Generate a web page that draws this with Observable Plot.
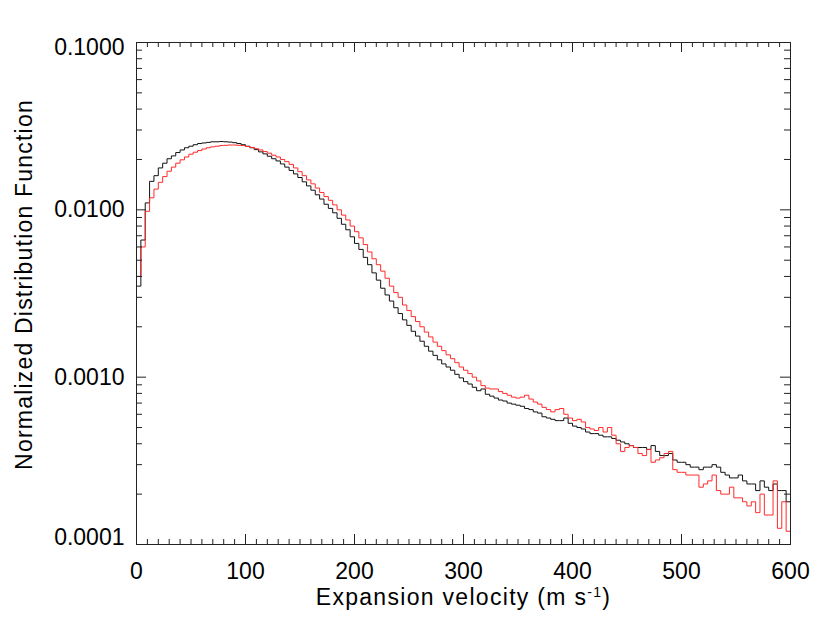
<!DOCTYPE html>
<html><head><meta charset="utf-8">
<script src="https://cdn.jsdelivr.net/npm/d3@7"></script>
<script src="https://cdn.jsdelivr.net/npm/@observablehq/plot@0.6"></script>
<style>html,body{margin:0;padding:0;background:#fff} svg{display:block}</style>
</head><body><div id="chart"></div>
<script>
// ---- data (bin start velocities, bin width 4 m/s) ----
const binWidth = 4;
const velocity = d3.range(0, 600, binWidth);
const blackSeries = [
  0.0035, 0.0066, 0.0110, 0.0148, 0.0160, 0.0178, 0.0190, 0.0202, 0.0210, 0.0220,
  0.0228, 0.0235, 0.0240, 0.0245, 0.0249, 0.0251, 0.0253, 0.0255, 0.0255, 0.0256,
  0.0255, 0.0254, 0.0252, 0.0249, 0.0245, 0.0240, 0.0235, 0.0229, 0.0222, 0.0216,
  0.0209, 0.0202, 0.0196, 0.0188, 0.0180, 0.0172, 0.0164, 0.0156, 0.0147, 0.0139,
  0.0131, 0.0123, 0.0116, 0.0108, 0.0102, 0.0096, 0.0089, 0.0082, 0.0076, 0.0069,
  0.0063, 0.0058, 0.0052, 0.0047, 0.0042, 0.0038, 0.0034, 0.0031, 0.00285, 0.0026,
  0.0024, 0.0022, 0.00204, 0.00188, 0.00176, 0.00164, 0.00153, 0.00143, 0.00135, 0.00127,
  0.00120, 0.00115, 0.00110, 0.00104, 0.00099, 0.00094, 0.00091, 0.00087, 0.00083, 0.00085,
  0.00079, 0.00077, 0.00075, 0.00073, 0.00072, 0.00070, 0.00069, 0.00068, 0.00067, 0.00065,
  0.00064, 0.00062, 0.00061, 0.00058, 0.00057, 0.00056, 0.00055, 0.00055, 0.00057, 0.00053,
  0.00051, 0.00050, 0.00049, 0.00047, 0.00046, 0.00046, 0.00045, 0.00044, 0.00044, 0.00043,
  0.00042, 0.00041, 0.00040, 0.00039, 0.00038, 0.00038, 0.00038, 0.00037, 0.00039, 0.00036,
  0.00034, 0.00034, 0.00035, 0.00032, 0.00031, 0.00031, 0.00030, 0.00029, 0.00029, 0.00028,
  0.00029, 0.00029, 0.00030, 0.00029, 0.00027, 0.00026, 0.00025, 0.00025, 0.00026, 0.00024,
  0.00023, 0.00023, 0.00021, 0.00024, 0.00022, 0.00021, 0.00023, 0.00021, 0.00021, 0.00018
];
const redSeries = [
  0.0040, 0.0060, 0.0098, 0.0118, 0.0133, 0.0146, 0.0158, 0.0170, 0.0180, 0.0190,
  0.0199, 0.0207, 0.0215, 0.0221, 0.0226, 0.0231, 0.0235, 0.0238, 0.0240, 0.0242,
  0.0243, 0.0244, 0.0244, 0.0243, 0.0242, 0.0239, 0.0236, 0.0232, 0.0228, 0.0223,
  0.0218, 0.0212, 0.0207, 0.0200, 0.0194, 0.0187, 0.0178, 0.0169, 0.0160, 0.0151,
  0.0143, 0.0135, 0.0127, 0.0120, 0.0114, 0.0107, 0.0100, 0.0093, 0.0087, 0.0080,
  0.0074, 0.0068, 0.0062, 0.0056, 0.0051, 0.0047, 0.0043, 0.0039, 0.0035, 0.0032,
  0.0030, 0.0027, 0.0025, 0.0023, 0.00215, 0.0020, 0.00186, 0.00174, 0.00162, 0.00153,
  0.00144, 0.00136, 0.00129, 0.00122, 0.00115, 0.00110, 0.00105, 0.00100, 0.00095, 0.00089,
  0.00086, 0.00085, 0.00085, 0.00082, 0.00080, 0.00078, 0.00076, 0.00075, 0.00076, 0.00078,
  0.00074, 0.00071, 0.00069, 0.00066, 0.00064, 0.00062, 0.00064, 0.00065, 0.00060, 0.00057,
  0.00055, 0.00056, 0.00054, 0.00050, 0.00049, 0.00048, 0.00050, 0.00047, 0.00050, 0.00045,
  0.00040, 0.00036, 0.00038, 0.00039, 0.00038, 0.00035, 0.00034, 0.00037, 0.00031, 0.00032,
  0.00033, 0.00035, 0.00036, 0.00028, 0.00027, 0.00027, 0.00026, 0.00026, 0.00026, 0.00022,
  0.00023, 0.00024, 0.00026, 0.00021, 0.00020, 0.00020, 0.00022, 0.00019, 0.00019, 0.00018,
  0.00017, 0.00018, 0.000155, 0.00020, 0.00015, 0.00015, 0.00024, 0.000125, 0.00018, 0.00012
];
const xMajorTicks = [0, 100, 200, 300, 400, 500, 600];
const xMinorTicks = [10,20,30,40,50,60,70,80,90,110,120,130,140,150,160,170,180,190,
  210,220,230,240,250,260,270,280,290,310,320,330,340,350,360,370,380,390,
  410,420,430,440,450,460,470,480,490,510,520,530,540,550,560,570,580,590];
const yMajorTicks = [0.0001, 0.001, 0.01, 0.1];
const yTickLabels = ["0.0001", "0.0010", "0.0100", "0.1000"];
const yMinorTicks = [0.0002,0.0003,0.0004,0.0005,0.0006,0.0007,0.0008,0.0009,
  0.002,0.003,0.004,0.005,0.006,0.007,0.008,0.009,
  0.02,0.03,0.04,0.05,0.06,0.07,0.08,0.09];
const xTitleMain = "Expansion velocity (m s", xTitleSup = "-1", xTitleEnd = ")";
const yTitle = "Normalized Distribution Function";

// ---- layout ----
const W = 830, H = 631, mL = 136, mR = 40, mT = 42, mB = 87;
const iW = W - mL - mR, iH = H - mT - mB;
const stepData = arr => velocity.map((v, i) => ({v, p: arr[i]}))
  .concat([{v: velocity[velocity.length - 1] + binWidth, p: arr[arr.length - 1]}]);
const fmtY = d => yTickLabels[yMajorTicks.indexOf(d)];
const axisColor = "#222";

const chart = Plot.plot({
  width: W, height: H,
  marginLeft: mL, marginRight: mR, marginTop: mT, marginBottom: mB,
  style: {fontFamily: "'Liberation Sans', Arial, Helvetica, sans-serif", fontSize: "23px", background: "#fff", color: "#000"},
  x: {domain: [0, 600]},
  y: {type: "log", domain: [1e-4, 1e-1]},
  marks: [
    Plot.line(stepData(blackSeries), {x: "v", y: "p", curve: "step-after", stroke: "#111", strokeWidth: 1}),
    Plot.line(stepData(redSeries), {x: "v", y: "p", curve: "step-after", stroke: "#ff2a2a", strokeWidth: 1}),
    Plot.tickX(xMinorTicks, {x: d => d, insetTop: iH - 5, stroke: axisColor}),
    Plot.tickX(xMinorTicks, {x: d => d, insetBottom: iH - 5, stroke: axisColor}),
    Plot.tickX(xMajorTicks, {x: d => d, insetTop: iH - 10, stroke: axisColor}),
    Plot.tickX(xMajorTicks, {x: d => d, insetBottom: iH - 10, stroke: axisColor}),
    Plot.tickY(yMinorTicks, {y: d => d, insetRight: iW - 6, stroke: axisColor}),
    Plot.tickY(yMinorTicks, {y: d => d, insetLeft: iW - 6, stroke: axisColor}),
    Plot.tickY(yMajorTicks, {y: d => d, insetRight: iW - 10, stroke: axisColor}),
    Plot.tickY(yMajorTicks, {y: d => d, insetLeft: iW - 10, stroke: axisColor}),
    Plot.frame({stroke: axisColor}),
    Plot.axisX({ticks: xMajorTicks, tickSize: 0, tickPadding: 18, tickFormat: d => String(d), fontSize: 23, label: null}),
    Plot.axisY({ticks: [0.01, 0.001], tickSize: 0, tickPadding: 12, tickFormat: fmtY, fontSize: 23, label: null}),
    Plot.axisY({ticks: [0.1], tickSize: 0, tickPadding: 12, tickFormat: fmtY, fontSize: 23, dy: 5, label: null}),
    Plot.axisY({ticks: [0.0001], tickSize: 0, tickPadding: 12, tickFormat: fmtY, fontSize: 23, dy: -7, label: null}),
    Plot.text([xTitleMain + xTitleSup + xTitleEnd], {text: d => d, frameAnchor: "bottom", textAnchor: "middle", lineAnchor: "middle", dy: 53, fontSize: 23}),
    Plot.text([yTitle], {text: d => d, frameAnchor: "left", textAnchor: "middle", lineAnchor: "middle", dx: -112, dy: -9, rotate: -90, fontSize: 23})
  ]
});
document.getElementById("chart").appendChild(chart);

// title letter spacing and superscript in x title
const full = xTitleMain + xTitleSup + xTitleEnd;
const texts = [...chart.querySelectorAll("text")];
const el = texts.find(t => t.textContent === full);
const yel = texts.find(t => t.textContent === yTitle);
if (yel) yel.setAttribute("letter-spacing", "1.2");
if (el) {
  const ns = "http://www.w3.org/2000/svg";
  el.setAttribute("letter-spacing", "1.3");
  el.textContent = xTitleMain;
  const sup = document.createElementNS(ns, "tspan");
  sup.setAttribute("dy", "-8"); sup.setAttribute("font-size", "14"); sup.textContent = xTitleSup;
  const end = document.createElementNS(ns, "tspan");
  end.setAttribute("dy", "8"); end.textContent = xTitleEnd;
  el.appendChild(sup); el.appendChild(end);
}
</script>
</body></html>
